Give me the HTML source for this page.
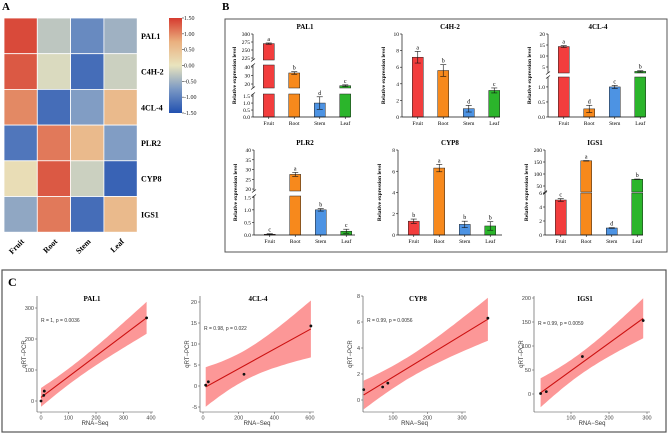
<!DOCTYPE html>
<html><head><meta charset="utf-8"><style>
body{margin:0;background:#fff}
svg{display:block}
.serif{font-family:"Liberation Serif",serif}
.sans{font-family:"Liberation Sans",sans-serif}
</style></head><body>
<svg id="fig" width="669" height="436" viewBox="0 0 669 436" xmlns="http://www.w3.org/2000/svg">
<text class="serif" x="2" y="10" font-size="11" font-weight="bold">A</text>
<text class="serif" x="222" y="10" font-size="11" font-weight="bold">B</text>
<rect x="225" y="19" width="442" height="233" fill="none" stroke="#555"/>
<rect x="2" y="270" width="664" height="162" fill="none" stroke="#555" stroke-width="1.2"/>
<text class="serif" x="8" y="286" font-size="12" font-weight="bold">C</text>
<g id="heat"></g><g id="bars"></g><g id="scat"></g>
</svg>
<script>
// ---------- DATA ----------
const heatGenes = ["PAL1","C4H-2","4CL-4","PLR2","CYP8","IGS1"];
const tissues = ["Fruit","Root","Stem","Leaf"];
const heatValues = [
 [1.4,-0.3,-0.9,-0.5],
 [1.3,-0.1,-1.2,-0.2],
 [1.0,-1.2,-0.7,0.6],
 [-1.1,1.1,0.6,-0.7],
 [0.1,1.3,-0.2,-1.3],
 [-0.6,1.1,-1.2,0.6]];
const colorbarTicks = ["1.50","1.00","0.50","0.00","-0.50","-1.00","-1.50"];

const barGenes = ["PAL1","C4H-2","4CL-4","PLR2","CYP8","IGS1"];
const barValues = [[270,33,1.0,18],[7.2,5.6,1.0,3.2],[14.3,0.27,1.0,3.0],[0.03,27.5,1.0,0.15],[1.3,6.3,1.0,0.85],[5.0,155,1.0,78]];
const barErrors = [[2,1.5,0.45,1],[0.7,0.7,0.4,0.3],[0.4,0.12,0.05,0.3],[0.02,1,0.05,0.08],[0.2,0.35,0.3,0.4],[0.2,1,0.05,1]];
const barLetters = [["a","b","d","c"],["a","b","d","c"],["a","d","c","b"],["c","a","b","c"],["b","a","b","b"],["c","a","d","b"]];
const barTicks = [
 [[0,0.5,1.0,1.5],[20,30,40],[225,250,275,300]],
 [[0,2,4,6,8,10]],
 [[0,0.5,1.0],[5,10,15,20]],
 [[0,0.5,1.0,1.5],[20,25,30,35,40]],
 [[0,2,4,6,8]],
 [[0,2,4,6],[50,100,150,200]]];
const barTickLabels = [
 [["0.0","0.5","1.0","1.5"],["20","30","40"],["225","250","275","300"]],
 [["0","2","4","6","8","10"]],
 [["0.0","0.5","1.0"],["5","10","15","20"]],
 [["0.0","0.5","1.0","1.5"],["20","25","30","35","40"]],
 [["0","2","4","6","8"]],
 [["0","2","4","6"],["50","100","150","200"]]];
const barSegDomains = [
 [[0,1.65],[15.3,42.4],[218.75,300]],
 [[0,10]],
 [[0,1.33],[2.27,20]],
 [[0,1.55],[19,40]],
 [[0,8]],
 [[0,6],[25,200]]];

const scatGenes = ["PAL1","4CL-4","CYP8","IGS1"];
const scatStats = ["R = 1, p = 0.0036","R = 0.98, p = 0.022","R = 0.99, p = 0.0056","R = 0.99, p = 0.0059"];
const scatX = [[0,10,12,384],[15,30,230,605],[15,70,85,375],[20,35,130,290]];
const scatY = [[0,18,32,268],[0.2,1.0,2.8,14.3],[0.8,1.0,1.3,6.3],[1,5,78,153]];
const scatXTicks = [[0,100,200,300,400],[0,200,400,600],[100,200,300],[100,200,300]];
const scatYTicks = [[0,100,200,300],[-5,0,5,10,15,20],[0,2,4,6,8],[0,50,100,150,200]];

// ---------- helpers ----------
const NS="http://www.w3.org/2000/svg";
function mk(tag,attrs,parent,txt){const e=document.createElementNS(NS,tag);for(const k in attrs)e.setAttribute(k,attrs[k]);if(txt!==undefined)e.textContent=txt;parent.appendChild(e);return e;}
function lerp(a,b,t){return a+(b-a)*t}
const stops=[[-1.5,[33,80,176]],[-0.75,[122,152,196]],[0,[233,228,190]],[0.75,[234,176,127]],[1.5,[214,58,47]]];
function cmap(v){v=Math.max(-1.5,Math.min(1.5,v));for(let i=0;i<stops.length-1;i++){const[a,ca]=stops[i],[b,cb]=stops[i+1];if(v<=b){const t=(v-a)/(b-a);return`rgb(${ca.map((c,j)=>Math.round(lerp(c,cb[j],t))).join(",")})`;}}}

// ---------- heatmap ----------
const H=document.getElementById("heat");
const hx0=4,hy0=18,cw=33.3,rh=35.7;
const hxs=i=>hx0+i*cw, hys=j=>hy0+j*rh;
heatValues.forEach((row,j)=>row.forEach((v,i)=>{
 const r=mk("rect",{x:hxs(i),y:hys(j),width:cw,height:rh,fill:cmap(v),stroke:"#fff","stroke-width":0.8},H);
 
 
}));
heatGenes.forEach((g,j)=>{const t=mk("text",{x:141,y:hys(j)+rh/2+3,"font-size":8,"font-weight":"bold",class:"serif"},H,g);
 });
tissues.forEach((g,i)=>{const cx=hxs(i)+cw/2+4,cy=242;const t=mk("text",{x:cx,y:cy,"font-size":8,"font-weight":"bold",class:"serif","text-anchor":"end",transform:`rotate(-45 ${cx} ${cy})`},H,g);
 });
// colorbar
const defs=mk("defs",{},H);const lg=mk("linearGradient",{id:"cbg",x1:0,y1:1,x2:0,y2:0},defs);
stops.forEach(s=>mk("stop",{offset:(s[0]+1.5)/3,"stop-color":cmap(s[0])},lg));
const cb=mk("rect",{x:169,y:18,width:13,height:95,fill:"url(#cbg)"},H);

colorbarTicks.forEach((t,k)=>{const v=parseFloat(t);const y=18+(1.5-v)/3*95;
 mk("line",{x1:182,x2:184,y1:y,y2:y,stroke:"#333","stroke-width":0.6},H);
 const e=mk("text",{x:184,y:y+2,"font-size":6,class:"serif",fill:"#222"},H,t);
 });

// ---------- bar panels ----------
const B=document.getElementById("bars");
const barColors=["#f23d3d","#f7891c","#4d93e3","#2bb52b"];
const panelAxisX=[253,402,548,254,398,545];
const panelEndX=[350,500,645,355,502,643];
const panelTitleX=[305,450,598,305,450,595];
const panelRowTop=[34,34,34,150,150,150];
const panelRowBot=[117,117,117,235,235,235];
// pixel tops for segments (layout)
const segPx=[
 [[117,94],[88,65],[60,34]],[[117,34]],[[117,77],[73,34]],
 [[235,196],[191,150]],[[235,150]],[[235,193],[192,150]]];
barGenes.forEach((g,p)=>{
 const G=mk("g",{},B);
 const ax=panelAxisX[p],ex=panelEndX[p],bot=panelRowBot[p];
 const segs=barSegDomains[p].map((d,k)=>({d,px:segPx[p][k]}));
 const sc=(k,v)=>{const s=segs[k];return s.px[0]+(v-s.d[0])/(s.d[1]-s.d[0])*(s.px[1]-s.px[0]);};
 const segOf=v=>{for(let k=segs.length-1;k>=0;k--){if(v>=segs[k].d[0])return k;}return 0;};
 const xc=i=>ax+15.75+25.5*i, bw=11;
 // title
 const t=mk("text",{x:panelTitleX[p],y:panelRowTop[p]-5,"font-size":7,"font-weight":"bold",class:"serif","text-anchor":"middle"},G,g);
 
 // y title
 const yt=ax-17,ym=(panelRowTop[p]+bot)/2;
 const ytt=mk("text",{x:yt,y:ym,"font-size":5.5,"font-weight":"bold",class:"serif","text-anchor":"middle",transform:`rotate(-90 ${yt} ${ym})`},G,"Relative expression level");
 
 // bars
 barValues[p].forEach((v,i)=>{
  const top=segOf(v);
  for(let k=0;k<=top;k++){
   const y0=sc(k,segs[k].d[0]);const y1=k<top?sc(k,segs[k].d[1]):sc(k,v);
   const r=mk("rect",{x:xc(i)-bw/2,y:Math.min(y0,y1),width:bw,height:Math.abs(y0-y1),fill:barColors[i],stroke:"#222","stroke-width":0.5},G);
   
  }
  const e=barErrors[p][i];const yh=sc(top,v+e),yl=sc(top,Math.max(segs[top].d[0],v-e));
  mk("line",{x1:xc(i),x2:xc(i),y1:yh,y2:yl,stroke:"#111","stroke-width":0.6},G);
  mk("line",{x1:xc(i)-3,x2:xc(i)+3,y1:yh,y2:yh,stroke:"#111","stroke-width":0.6},G);
  mk("line",{x1:xc(i)-3,x2:xc(i)+3,y1:yl,y2:yl,stroke:"#111","stroke-width":0.6},G);
  const lt=mk("text",{x:xc(i),y:yh-2,"font-size":6,class:"serif","text-anchor":"middle"},G,barLetters[p][i]);
  
  const xl=mk("text",{x:xc(i),y:bot+8,"font-size":5.5,class:"serif","text-anchor":"middle"},G,tissues[i]);
  
  mk("line",{x1:xc(i),x2:xc(i),y1:bot,y2:bot+2,stroke:"#111","stroke-width":0.6},G);
 });
 // axes
 segs.forEach((s,k)=>{
  mk("line",{x1:ax,x2:ax,y1:s.px[0],y2:s.px[1],stroke:"#111","stroke-width":0.7},G);
  barTicks[p][k].forEach((tv,m)=>{const y=sc(k,tv);
   mk("line",{x1:ax-2,x2:ax,y1:y,y2:y,stroke:"#111","stroke-width":0.6},G);
   const tl=mk("text",{x:ax-3,y:y+2,"font-size":5.5,class:"serif","text-anchor":"end"},G,barTickLabels[p][k][m]);
   });
  if(k>0){mk("line",{x1:ax-2,x2:ax+2,y1:s.px[0]+1.5,y2:s.px[0]-1.5,stroke:"#111","stroke-width":0.6},G);
   mk("line",{x1:ax-2,x2:ax+2,y1:segs[k-1].px[1]+1.5,y2:segs[k-1].px[1]-1.5,stroke:"#111","stroke-width":0.6},G);}
 });
 mk("line",{x1:ax,x2:ex,y1:bot,y2:bot,stroke:"#111","stroke-width":0.7},G);
});

// ---------- scatter panels ----------
const S=document.getElementById("scat");
const sAxisX=[37,200,363,534], sEndX=[153,314,466,650];
const sX0px=[41,203,358.5,533], sXpx=[0.275,0.1783,0.345,0.38];
const sY0px=[401,386,400,394], sYpx=[0.31,4.2,13,0.48];
const sYTop=[296,296,296,296], sBot=412;
const sTitleX=[92,258,418,585], sStatY=[322,330,322,325];
scatGenes.forEach((g,p)=>{
 const G=mk("g",{},S);
 const X=v=>sX0px[p]+v*sXpx[p], Y=v=>sY0px[p]-v*sYpx[p];
 const xs=scatX[p],ys=scatY[p],n=xs.length;
 const mx=xs.reduce((a,b)=>a+b)/n,my=ys.reduce((a,b)=>a+b)/n;
 let sxx=0,sxy=0;xs.forEach((x,i)=>{sxx+=(x-mx)**2;sxy+=(x-mx)*(ys[i]-my);});
 const b=sxy/sxx,a=my-b*mx;let sse=0;xs.forEach((x,i)=>{sse+=(ys[i]-a-b*x)**2;});
 const s=Math.sqrt(sse/(n-2)),tq=4.303;
 const xmin=Math.min(...xs),xmax=Math.max(...xs);const up=[],lo=[];
 for(let k=0;k<=40;k++){const x=xmin+(xmax-xmin)*k/40;const yh=a+b*x;const se=s*Math.sqrt(1/n+(x-mx)**2/sxx)*tq;
  up.push(X(x).toFixed(1)+","+Y(yh+se).toFixed(1));lo.unshift(X(x).toFixed(1)+","+Y(yh-se).toFixed(1));}
 const band=mk("polygon",{points:up.concat(lo).join(" "),fill:"#fb8585","fill-opacity":0.85},G);
 
 const ln=mk("line",{x1:X(xmin),y1:Y(a+b*xmin),x2:X(xmax),y2:Y(a+b*xmax),stroke:"#cc1111","stroke-width":1.1},G);
 
 xs.forEach((x,i)=>{const c=mk("circle",{cx:X(x),cy:Y(ys[i]),r:1.4,fill:"#111"},G);
  });
 const ax=sAxisX[p];
 mk("line",{x1:ax,x2:ax,y1:sYTop[p],y2:sBot,stroke:"#444","stroke-width":0.6},G);
 mk("line",{x1:ax,x2:sEndX[p],y1:sBot,y2:sBot,stroke:"#444","stroke-width":0.6},G);
 scatXTicks[p].forEach(v=>{mk("line",{x1:X(v),x2:X(v),y1:sBot,y2:sBot+2,stroke:"#444","stroke-width":0.5},G);
  const e=mk("text",{x:X(v),y:sBot+7.5,"font-size":5.5,class:"sans","text-anchor":"middle",fill:"#444"},G,v);
  });
 scatYTicks[p].forEach(v=>{mk("line",{x1:ax-2,x2:ax,y1:Y(v),y2:Y(v),stroke:"#444","stroke-width":0.5},G);
  const e=mk("text",{x:ax-3,y:Y(v)+2,"font-size":5.5,class:"sans","text-anchor":"end",fill:"#444"},G,v);
  });
 const tt=mk("text",{x:sTitleX[p],y:301,"font-size":7,"font-weight":"bold",class:"serif","text-anchor":"middle"},G,g);
 
 const st=mk("text",{x:ax+4,y:sStatY[p],"font-size":5,class:"sans",fill:"#333"},G,scatStats[p]);
 
 const xt=mk("text",{x:(ax+sEndX[p])/2,y:sBot+13,"font-size":6,class:"sans","text-anchor":"middle",fill:"#333"},G,"RNA\u2212Seq");
 
 const yx=ax-11,yy=(sYTop[p]+sBot)/2;
 const yt=mk("text",{x:yx,y:yy,"font-size":6,class:"sans","text-anchor":"middle",fill:"#333",transform:`rotate(-90 ${yx} ${yy})`},G,"qRT\u2212PCR");
 
});
</script>
</body></html>
